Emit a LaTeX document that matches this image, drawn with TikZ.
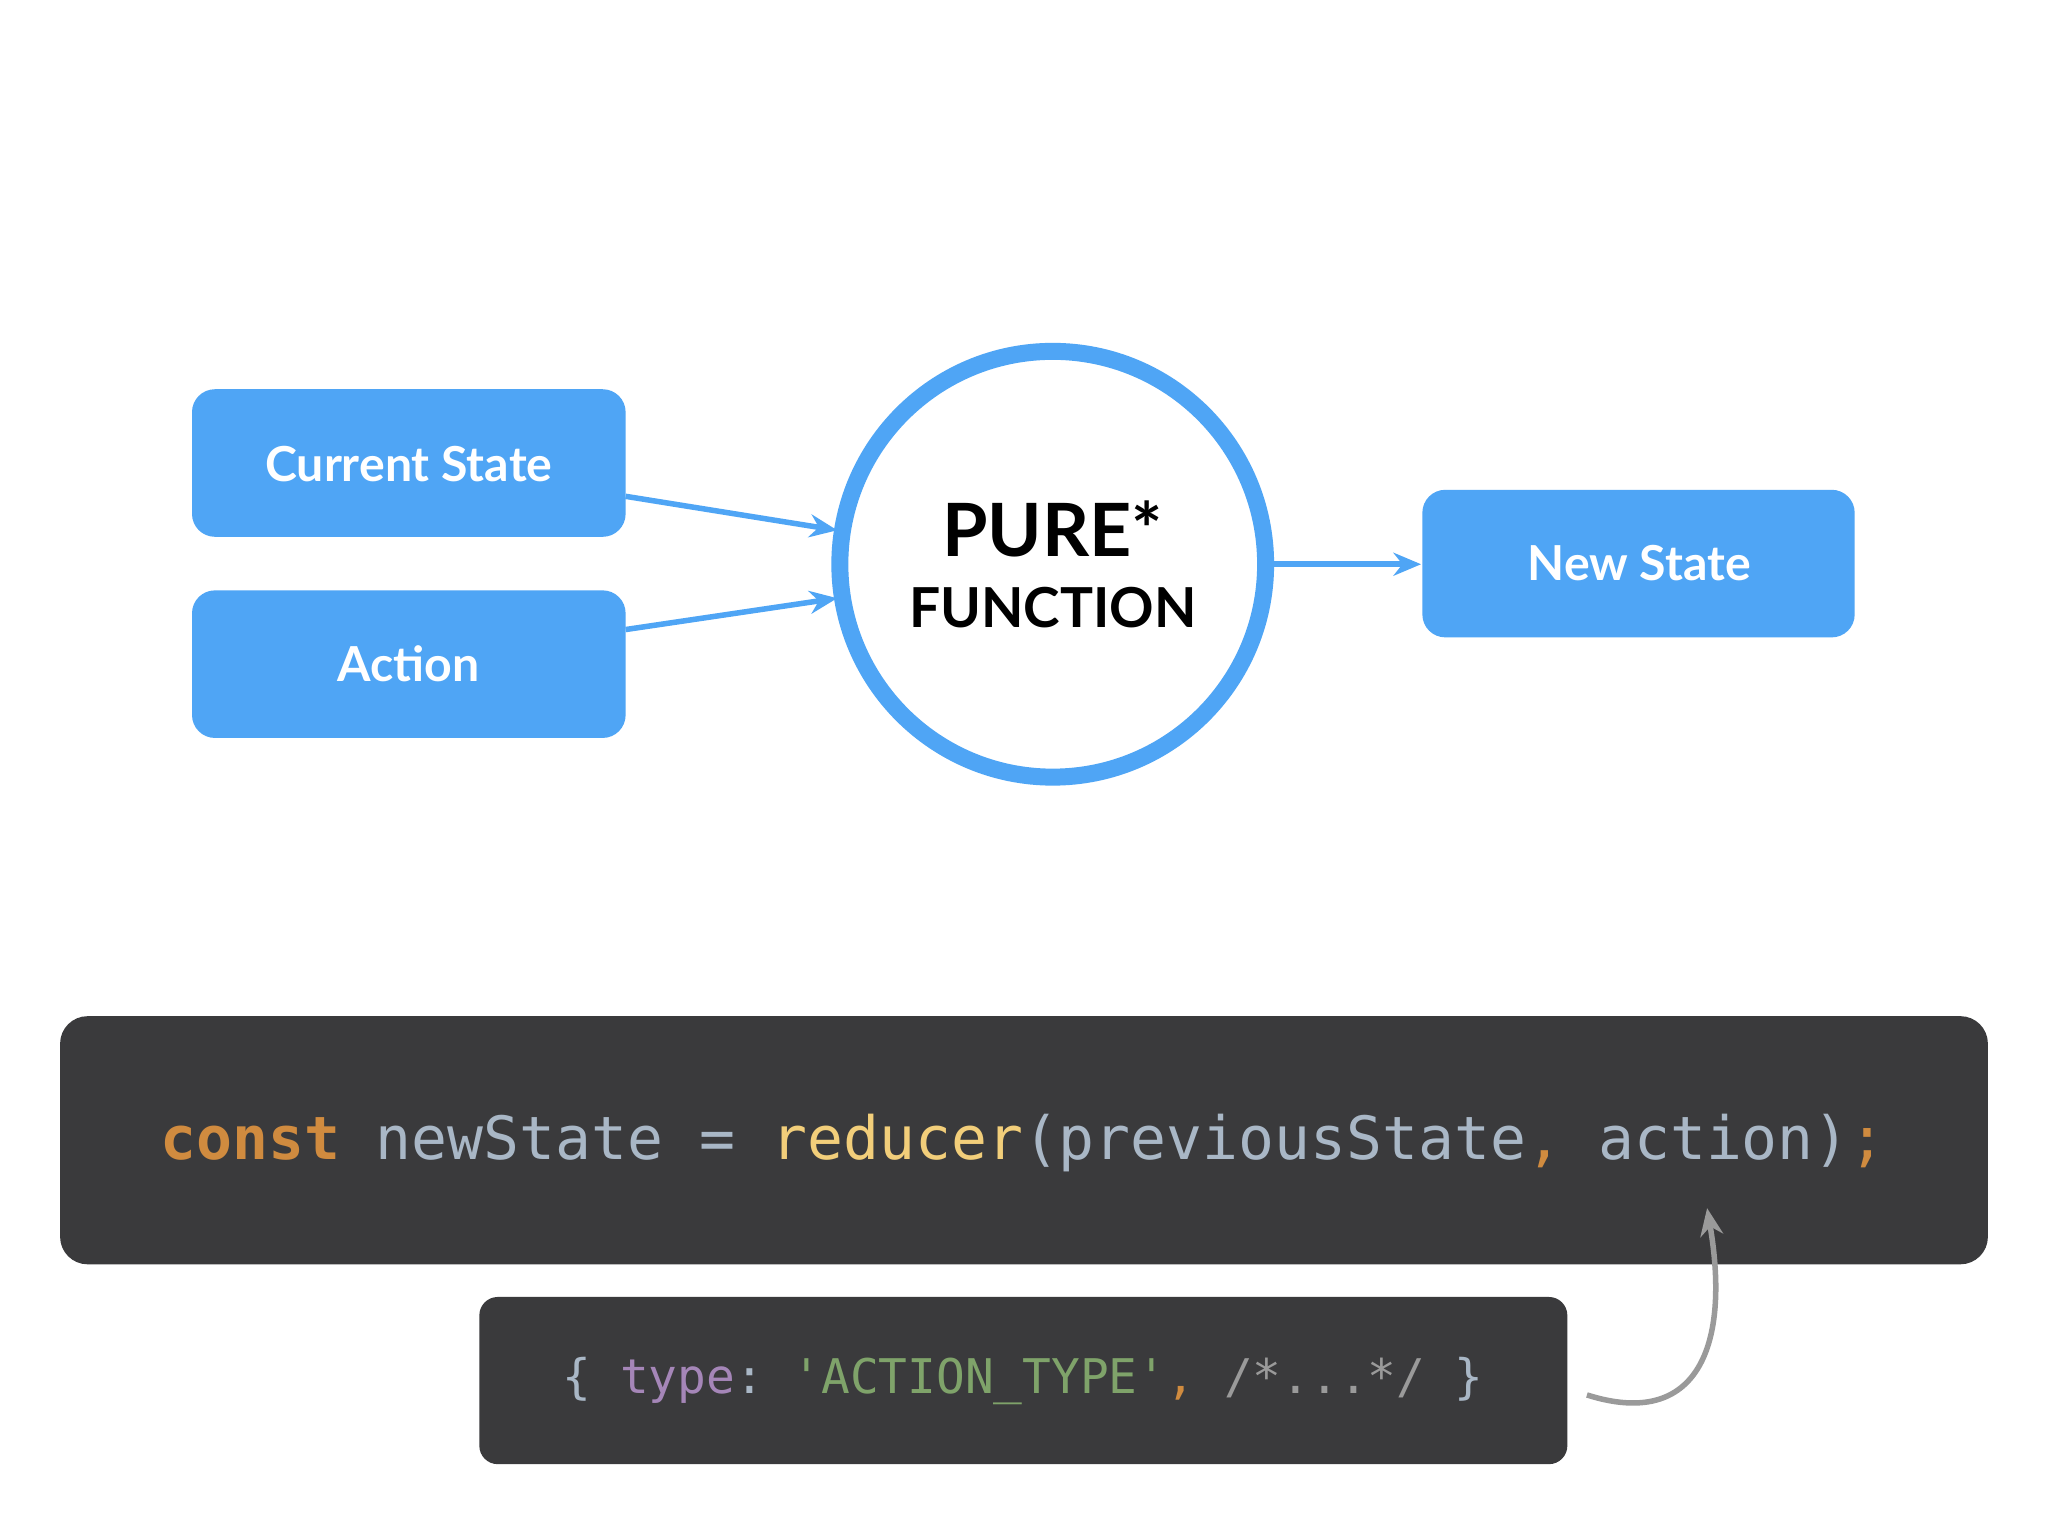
\documentclass[tikz,border=0pt]{standalone}
\usepackage{fontspec}
\setmainfont{Lato}
\setmonofont{DejaVu Sans Mono}
\usetikzlibrary{arrows.meta}
\definecolor{bblue}{HTML}{4FA5F5}
\definecolor{codebg}{HTML}{3A3A3C}
\definecolor{ckw}{HTML}{D08B3F}
\definecolor{cid}{HTML}{A9B7C6}
\definecolor{cfn}{HTML}{F2CE7A}
\definecolor{cpur}{HTML}{A586B8}
\definecolor{cstr}{HTML}{7FA36A}
\definecolor{ccom}{HTML}{9A9A9A}
\begin{document}
\begin{tikzpicture}[x=0.01cm,y=-0.01cm,
  bbox/.style={fill=bblue,rounded corners=5pt,text=white,font=\bfseries\fontsize{10.5}{12}\selectfont},
  conn/.style={bblue,line width=1.2pt,-{Stealth[length=6pt,width=5pt]}}]
\useasboundingbox[fill=white] (0,0) rectangle (1568,1176);
\fill[bblue,rounded corners=5pt] (147,298) rectangle (479,411);
\node[text=white,font=\bfseries\fontsize{10.5}{12}\selectfont] (cs) at (313,355) {Current State};
\coordinate (csr) at (479,380);
\fill[bblue,rounded corners=5pt] (147,452) rectangle (479,565);
\node[text=white,font=\bfseries\fontsize{10.5}{12}\selectfont] (ac) at (313,508) {Action};
\coordinate (acr) at (479,482);
\fill[bblue,rounded corners=5pt] (1089,375) rectangle (1420,488);
\node[text=white,font=\bfseries\fontsize{10.5}{12}\selectfont] (ns) at (1255,431) {New State};
\coordinate (nsl) at (1088,432);
\draw[bblue,line width=1.3mm,fill=white] (806,432) circle (163);
\coordinate (cl1) at (641,406);
\coordinate (cl2) at (641,458);
\coordinate (cr) at (970,432);
\node[font=\fontsize{16}{18}\selectfont\bfseries] (pure) at (806,405) {PURE*};
\node[font=\fontsize{12}{14}\selectfont\bfseries] (func) at (806,465) {FUNCTION};
\draw[conn] (csr) -- (cl1);
\draw[conn] (acr) -- (cl2);
\draw[conn] (cr) -- (nsl);
\fill[codebg,rounded corners=6pt] (46,778) rectangle (1522,968);
\node[anchor=west,font=\ttfamily\fontsize{13}{15}\selectfont,inner sep=0pt] (code) at (122,875)
 {\textcolor{ckw}{\bfseries const} \textcolor{cid}{newState =} \textcolor{cfn}{reducer}\textcolor{cid}{(previousState}\textcolor{ckw}{,} \textcolor{cid}{action)}\textcolor{ckw}{;}};
\fill[codebg,rounded corners=4pt] (367,993) rectangle (1200,1121);
\node[anchor=west,font=\ttfamily\fontsize{10.4}{12}\selectfont,inner sep=0pt] (obj) at (430,1057)
 {\textcolor{cid}{\{} \textcolor{cpur}{type}\textcolor{cid}{:} \textcolor{cstr}{'ACTION\_TYPE'}\textcolor{ckw}{,} \textcolor{ccom}{/*...*/} \textcolor{cid}{\}}};
\coordinate (cs1) at (1215,1068);
\coordinate (ce1) at (1307,925);
\draw[ccom,line width=1.2pt,-{Stealth[length=6pt,width=5pt]}] (cs1) .. controls (1300,1095) and (1325,1030) .. (ce1);
\end{tikzpicture}
\end{document}
